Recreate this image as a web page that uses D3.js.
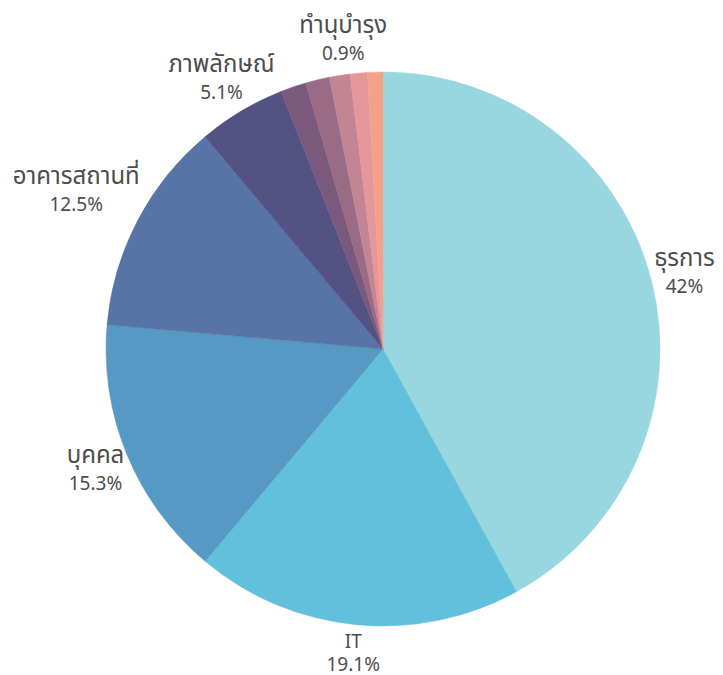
<!DOCTYPE html>
<html lang="th">
<head>
<meta charset="utf-8">
<script src="https://cdn.jsdelivr.net/npm/d3@7"></script>
<style>
  html, body { margin: 0; padding: 0; background: #ffffff; }
  svg { display: block; }
  .slice-label { font-family: "Noto Sans Thai", "Noto Sans", "Open Sans", sans-serif; font-weight: 400; fill: #4d4d4d; }
</style>
</head>
<body>
<div id="chart"></div>
<script>
// Budget share by department (percent), clockwise from 12 o'clock
const categories = ["ธุรการ", "IT", "บุคคล", "อาคารสถานที่", "ภาพลักษณ์",
                    "หมวด 6", "หมวด 7", "หมวด 8", "หมวด 9", "ทำนุบำรุง"];
const shares = [42, 19.1, 15.3, 12.5, 5.1, 1.5, 1.4, 1.2, 1.0, 0.9];
const sliceColors = ["#98d7df", "#63c0dc", "#5699c5", "#5873a6", "#545282",
                     "#7a597d", "#996b85", "#c38594", "#e5979b", "#f5a18a"];
// Only these slices carry a text label
const labelled = ["ธุรการ", "IT", "บุคคล", "อาคารสถานที่", "ภาพลักษณ์", "ทำนุบำรุง"];

const width = 723, height = 675;
const cx = 383, cy = 349, radius = 277;
const labelGap = 3;       // space between the rim and the nearest edge of a label
const thaiSize = 24, latinSize = 19;
const thaiLine = 27, latinLine = 23;
// sideways nudge for labels that sit among the crowded thin slices
const labelNudge = { "ทำนุบำรุง": -31 };

const isThai = s => /[\u0E00-\u0E7F]/.test(s);

const data = categories.map((c, i) => ({ name: c, value: shares[i], color: sliceColors[i] }));

const svg = d3.select("#chart").append("svg")
  .attr("width", width).attr("height", height);

const g = svg.append("g").attr("transform", `translate(${cx},${cy})`);

const pie = d3.pie().value(d => d.value).sort(null);
const arc = d3.arc().innerRadius(0).outerRadius(radius);
const arcs = pie(data);

g.selectAll("path.slice")
  .data(arcs)
  .join("path")
  .attr("class", "slice")
  .attr("d", arc)
  .attr("fill", d => d.data.color)
  .attr("stroke", d => d.data.color)
  .attr("stroke-width", 0.5);

const labels = g.selectAll("g.label")
  .data(arcs.filter(d => labelled.includes(d.data.name)))
  .join("g")
  .attr("class", "label");

labels.each(function(d) {
  const lg = d3.select(this);
  const thai = isThai(d.data.name);
  const t = lg.append("text")
    .attr("class", "slice-label")
    .attr("text-anchor", "middle");
  t.append("tspan").attr("x", 0).attr("y", 0)
    .style("font-size", (thai ? thaiSize : latinSize) + "px")
    .text(d.data.name);
  t.append("tspan").attr("x", 0).attr("y", thai ? thaiLine : latinLine)
    .style("font-size", latinSize + "px")
    .text(`${d.data.value}%`);

  // center the two-line block on the origin
  const bb = t.node().getBBox();
  t.attr("transform", `translate(0,${-(bb.y + bb.height / 2)})`);

  // push the block outward along the slice's mid-angle until its edge clears the rim
  const mid = (d.startAngle + d.endAngle) / 2;
  const ux = Math.sin(mid), uy = -Math.cos(mid);
  const hw = bb.width / 2, hh = bb.height / 2;
  const reach = Math.min(Math.abs(ux) > 1e-6 ? hw / Math.abs(ux) : Infinity,
                         Math.abs(uy) > 1e-6 ? hh / Math.abs(uy) : Infinity);
  const dist = radius + labelGap + reach;
  const nx = labelNudge[d.data.name] || 0;
  lg.attr("transform", `translate(${ux * dist + nx},${uy * dist})`);
});
</script>
</body>
</html>
